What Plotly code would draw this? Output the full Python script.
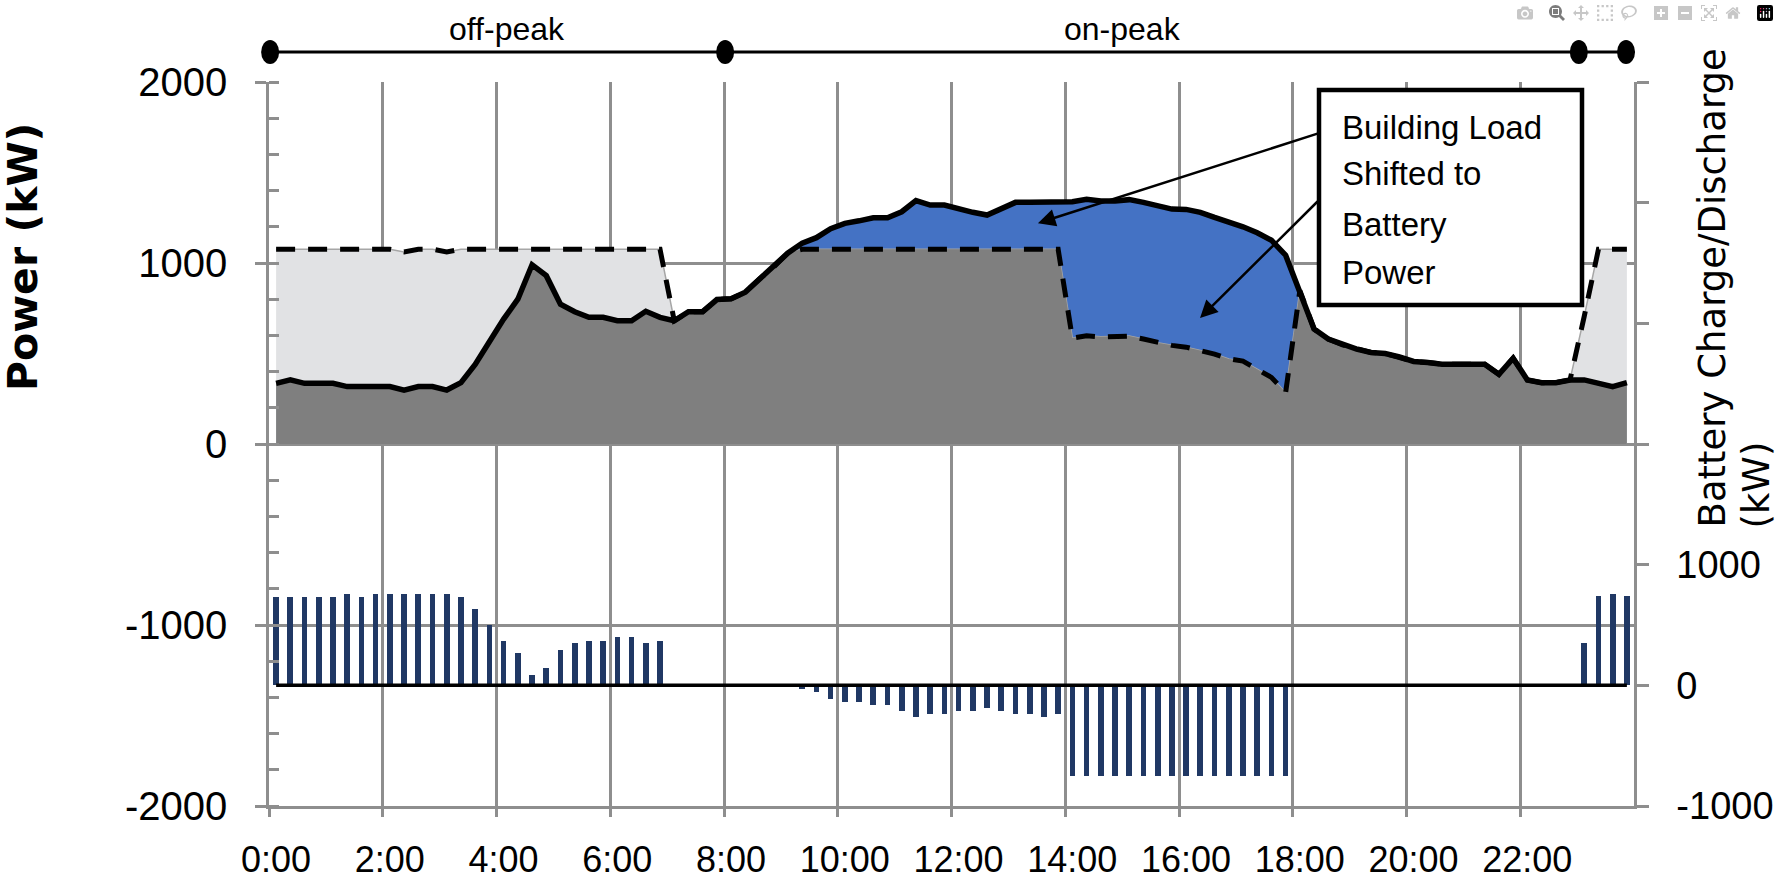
import plotly.graph_objects as go

# ---------------- data (15-minute slots, plotted at slot centres) ----------------
slot_hours = [(i + 0.5) / 4 for i in range(96)]

building_load = [
    335, 354, 335, 335, 335, 317, 317, 317, 317, 298, 317, 317, 298, 339, 440, 565,
    690, 800, 990, 930, 772, 731, 700, 700, 681, 681, 733, 700, 681, 731, 731, 798,
    802, 839, 913, 978, 1056, 1110, 1140, 1190, 1219, 1233, 1250, 1250, 1283, 1345, 1320, 1320,
    1298, 1280, 1265, 1302, 1335, 1335, 1335, 1335, 1338, 1352, 1342, 1342, 1350, 1335, 1316, 1298,
    1296, 1280, 1252, 1228, 1200, 1167, 1126, 1043, 848, 635, 580, 548, 524, 506, 500, 481,
    456, 450, 441, 441, 441, 441, 385, 474, 354, 339, 339, 354, 354, 339, 317, 339,
]

grid_power = [
    1076, 1076, 1076, 1076, 1076, 1076, 1076, 1076, 1076, 1061, 1076, 1076, 1061, 1076, 1076, 1076,
    1076, 1076, 1076, 1076, 1076, 1076, 1076, 1076, 1076, 1076, 1076, 1076, 681, 731, 731, 798,
    802, 839, 913, 978, 1056, 1076, 1076, 1076, 1076, 1076, 1076, 1076, 1076, 1076, 1076, 1076,
    1076, 1076, 1076, 1076, 1076, 1076, 1076, 1076, 585, 598, 592, 592, 596, 580, 560, 545,
    535, 516, 497, 470, 458, 413, 368, 285, 848, 635, 580, 548, 524, 506, 500, 481,
    456, 450, 441, 441, 441, 441, 385, 474, 354, 339, 339, 354, 705, 1076, 1076, 1076,
]

battery_kw = [
    735, 735, 735, 735, 735, 757, 735, 757, 757, 757, 757, 757, 757, 735, 630, 500,
    370, 271, 88, 141, 296, 348, 370, 370, 398, 398, 348, 370, 0, 0, 0, 0,
    0, 0, 0, 0, 0, -30, -58, -110, -138, -138, -163, -163, -215, -265, -240, -240,
    -215, -215, -188, -215, -240, -240, -265, -240, -754, -754, -754, -754, -754, -754, -754, -754,
    -754, -754, -754, -754, -754, -754, -754, -754, 0, 0, 0, 0, 0, 0, 0, 0,
    0, 0, 0, 0, 0, 0, 0, 0, 0, 0, 0, 0, 351, 738, 760, 738,
]

battery_baseline = [0] * 96

x_tick_hours = [0, 2, 4, 6, 8, 10, 12, 14, 16, 18, 20, 22]
x_tick_labels = ["0:00", "2:00", "4:00", "6:00", "8:00", "10:00", "12:00",
                 "14:00", "16:00", "18:00", "20:00", "22:00"]
y_ticks = [-2000, -1000, 0, 1000, 2000]
y2_ticks = [-1000, 0, 1000, 2000, 3000, 4000, 5000]
y2_labels = ["-1000", "0", "1000", "", "", "", ""]

period_marks_h = [0.02, 8.02, 23.03, 23.86]
period_labels = [("off-peak", 4.19), ("on-peak", 15.0)]

annotation_lines = ["Building Load", "Shifted to", "Battery", "Power"]

# ---------------- layout geometry (pixels) ----------------
W, H = 1779, 882
PL, PR, PT, PB = 269, 1634, 82, 806


def px_x(x):
    return (x - PL) / (PR - PL)


def px_y(y):
    return (PB - y) / (PB - PT)


def h_to_px(h):
    return PL + h / 24 * (PR - PL)


GRID = "#8E8E8E"
DARK_GRAY = "#7F7F7F"
LIGHT_GRAY = "#E1E2E4"
BLUE = "#4472C4"
NAVY = "#203864"
TICKFONT = "Liberation Sans, Arial, sans-serif"

base_area = [min(a, b) for a, b in zip(building_load, grid_power)]

fig = go.Figure()

# blue: load above grid (discharge)
fig.add_trace(go.Scatter(x=slot_hours, y=building_load, mode="lines", fill="tozeroy",
                         fillcolor=BLUE, line=dict(width=0.8, color="#8FAADC"),
                         hoverinfo="skip", showlegend=False))
# light gray: grid above load (charging)
fig.add_trace(go.Scatter(x=slot_hours, y=grid_power, mode="lines", fill="tozeroy",
                         fillcolor=LIGHT_GRAY, line=dict(width=1.5, color="#A6A6A6"),
                         hoverinfo="skip", showlegend=False))
# dark gray base
fig.add_trace(go.Scatter(x=slot_hours, y=base_area, mode="lines", fill="tozeroy",
                         fillcolor=DARK_GRAY, line=dict(width=0),
                         hoverinfo="skip", showlegend=False))
# dashed grid power
fig.add_trace(go.Scatter(x=slot_hours, y=grid_power, mode="lines",
                         line=dict(color="black", width=5, dash="19px,13px"),
                         showlegend=False))
# solid building load
fig.add_trace(go.Scatter(x=slot_hours, y=building_load, mode="lines",
                         line=dict(color="black", width=5.5), showlegend=False))

# battery bars on secondary axis
fig.add_trace(go.Bar(x=slot_hours, y=battery_kw, yaxis="y2", width=0.1,
                     marker=dict(color=NAVY, line=dict(width=0)), showlegend=False))
fig.add_trace(go.Scatter(x=slot_hours, y=battery_baseline, yaxis="y2", mode="lines",
                         line=dict(color="black", width=3.5), showlegend=False))

fig.update_layout(
    width=W, height=H,
    margin=dict(l=PL, r=W - PR, t=PT, b=H - PB, pad=0, autoexpand=False),
    paper_bgcolor="white", plot_bgcolor="white",
    showlegend=False, bargap=0,
    xaxis=dict(
        range=[0, 24], tickmode="array", tickvals=x_tick_hours, ticktext=x_tick_labels,
        automargin=False, tickangle=0,
        showgrid=True, gridcolor=GRID, gridwidth=2.5, zeroline=False,
        showline=True, linecolor=GRID, linewidth=2.5,
        ticks="outside", ticklen=8, tickwidth=2.5, tickcolor=GRID,
        ticklabelshift=7, ticklabelstandoff=12,
        tickfont=dict(family=TICKFONT, size=36, color="black"),
    ),
    yaxis=dict(
        range=[-2000, 2000], tickmode="array", tickvals=y_ticks,
        ticktext=[str(v) for v in y_ticks], automargin=False,
        showgrid=True, gridcolor=GRID, gridwidth=2.5, zeroline=False,
        showline=True, linecolor=GRID, linewidth=2.5,
        ticks="outside", ticklen=11, tickwidth=2.5, tickcolor=GRID,
        ticklabelstandoff=20,
        tickfont=dict(family=TICKFONT, size=40, color="black"),
        minor=dict(dtick=200, ticks="inside", ticklen=10, tickwidth=2.5,
                   tickcolor=GRID, showgrid=False),
    ),
    yaxis2=dict(
        overlaying="y", side="right", range=[-1000, 5000], tickmode="array",
        tickvals=y2_ticks, ticktext=y2_labels, automargin=False,
        showgrid=False, zeroline=False, showline=True, linecolor=GRID, linewidth=2.5,
        ticks="outside", ticklen=12, tickwidth=2.5, tickcolor=GRID,
        ticklabelstandoff=20,
        tickfont=dict(family=TICKFONT, size=38, color="black"),
    ),
)

shapes = []
# period bar on top
py = px_y(52)
shapes.append(dict(type="line", xref="paper", yref="paper",
                   x0=px_x(h_to_px(period_marks_h[0])), x1=px_x(h_to_px(period_marks_h[-1])),
                   y0=py, y1=py, line=dict(color="black", width=3)))
for h in period_marks_h:
    shapes.append(dict(type="circle", xref="paper", yref="paper",
                       xsizemode="pixel", ysizemode="pixel",
                       xanchor=px_x(h_to_px(h)), yanchor=py,
                       x0=-9, x1=9, y0=-12, y1=12,
                       fillcolor="black", line=dict(width=0)))
# annotation box
shapes.append(dict(type="rect", xref="paper", yref="paper",
                   x0=px_x(1319), x1=px_x(1582), y0=px_y(305), y1=px_y(90),
                   fillcolor="white", line=dict(color="black", width=4.5), layer="above"))

annotations = []
for text, h in period_labels:
    annotations.append(dict(text=text, xref="paper", yref="paper",
                            x=px_x(h_to_px(h)), y=px_y(29), xanchor="center", yanchor="middle",
                            showarrow=False,
                            font=dict(family="Liberation Sans, sans-serif", size=32, color="black")))

for k, line in enumerate(annotation_lines):
    yc = [127, 173, 224, 272][k]
    annotations.append(dict(text=line, xref="paper", yref="paper",
                            x=px_x(1340), y=px_y(yc), xanchor="left", yanchor="middle",
                            showarrow=False,
                            font=dict(family="Liberation Sans, sans-serif", size=33, color="black")))

# arrows from box to shaded regions
annotations.append(dict(text="", xref="x", yref="y", x=13.52, y=1220,
                        ax=281, ay=-90, showarrow=True, arrowhead=2, arrowsize=1.4,
                        arrowwidth=2.5, arrowcolor="black"))
annotations.append(dict(text="", xref="x", yref="y", x=16.37, y=696,
                        ax=119, ay=-118, showarrow=True, arrowhead=2, arrowsize=1.4,
                        arrowwidth=2.5, arrowcolor="black"))

# axis titles
annotations.append(dict(text="<b>Power (kW)</b>", xref="paper", yref="paper",
                        x=px_x(23), y=px_y(257), xanchor="center", yanchor="middle",
                        textangle=-90, showarrow=False,
                        font=dict(family="DejaVu Sans, sans-serif", size=41, color="black")))
annotations.append(dict(text="Battery Charge/Discharge", xref="paper", yref="paper",
                        x=px_x(1712), y=px_y(530), xanchor="center", yanchor="bottom",
                        textangle=-90, showarrow=False,
                        font=dict(family="DejaVu Sans, sans-serif", size=37, color="black")))
annotations.append(dict(text="(kW)", xref="paper", yref="paper",
                        x=px_x(1756), y=px_y(530), xanchor="center", yanchor="bottom",
                        textangle=-90, showarrow=False,
                        font=dict(family="DejaVu Sans, sans-serif", size=37, color="black")))

fig.update_layout(shapes=shapes, annotations=annotations)

fig.write_html("out.html", post_script="document.body.style.margin='0';")
